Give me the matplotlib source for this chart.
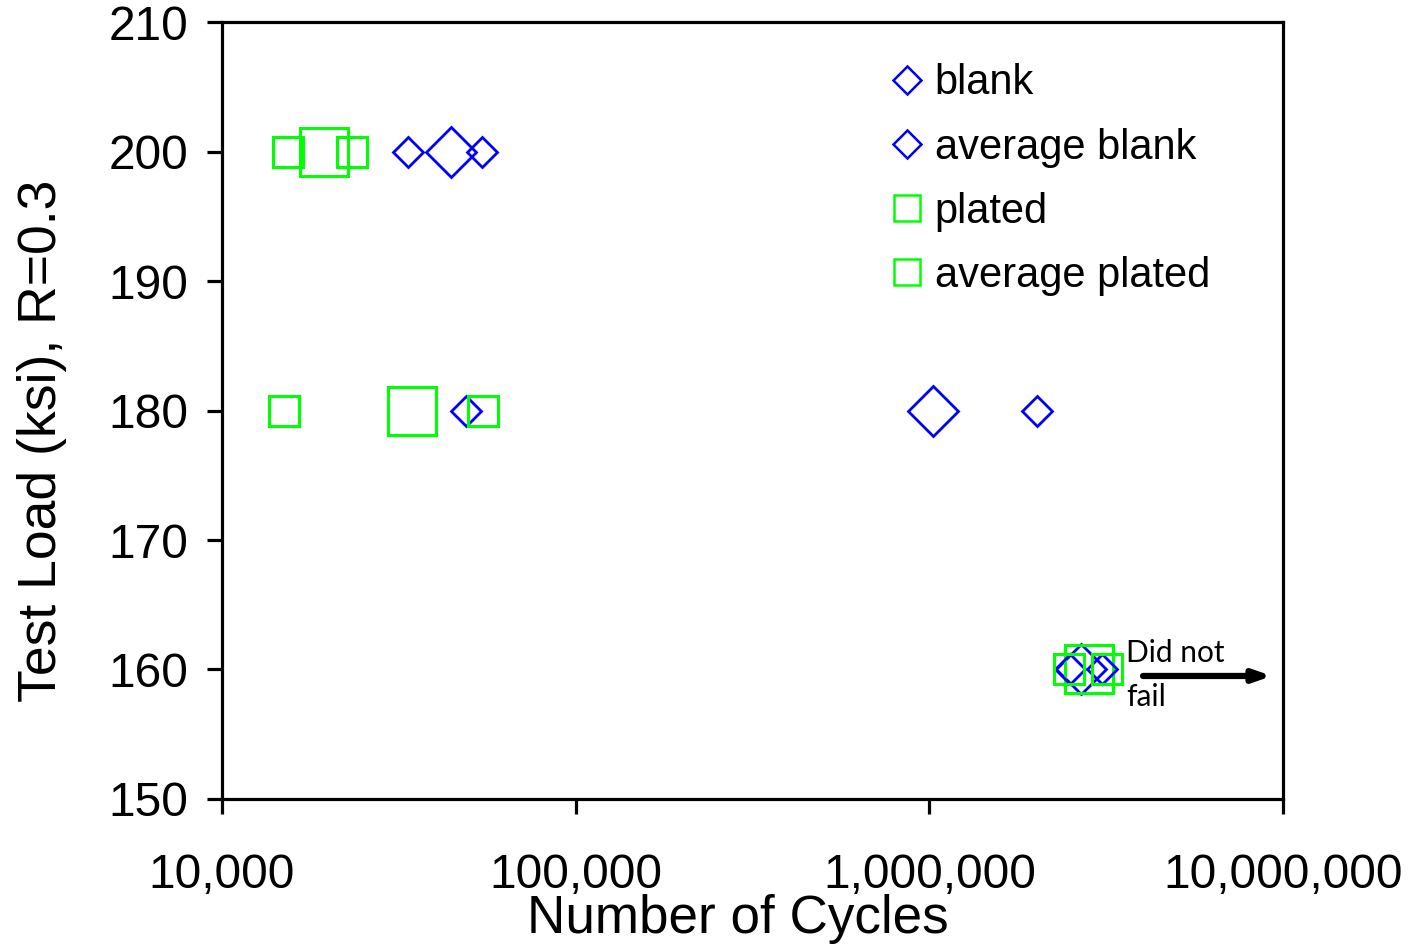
import matplotlib
matplotlib.use("Agg")
import matplotlib.pyplot as plt
from matplotlib.ticker import FixedLocator, FuncFormatter, NullLocator

plt.rcParams['font.family'] = ['Liberation Sans', 'DejaVu Sans']

# individual specimens and averages (cycles, load ksi)
blank_cycles = [33600, 54300, 49000, 2021000, 2497000, 3076000]
blank_load = [200, 200, 180, 180, 160, 160]
avg_blank_cycles = [44400, 1024000, 2683000]
avg_blank_load = [200, 180, 160]

plated_cycles = [15400, 23300, 15000, 54700, 2481000, 3178000]
plated_load = [200, 200, 180, 180, 160, 160]
avg_plated_cycles = [19400, 34400, 2827000]
avg_plated_load = [200, 180, 160]

x_ticks = [1e4, 1e5, 1e6, 1e7]
y_ticks = [150, 160, 170, 180, 190, 200, 210]

fig = plt.figure(figsize=(14.18, 9.46), dpi=100)
ax = fig.add_axes([0.1566, 0.1554, 0.7482, 0.8213])

blue = '#0000ff'
green = '#00ff00'

ax.plot(avg_blank_cycles, avg_blank_load, linestyle='none', marker='D', ms=25,
        mfc='none', mec=blue, mew=2.0)
ax.plot(avg_plated_cycles, avg_plated_load, linestyle='none', marker='s', ms=34,
        mfc='none', mec=green, mew=2.2)
ax.plot(blank_cycles, blank_load, linestyle='none', marker='D', ms=15.5,
        mfc='none', mec=blue, mew=2.0)
ax.plot(plated_cycles, plated_load, linestyle='none', marker='s', ms=21,
        mfc='none', mec=green, mew=2.2)

# legend proxies (all drawn the same small size)
h1, = ax.plot([], [], linestyle='none', marker='D', ms=14, mfc='none', mec=blue, mew=1.8)
h2, = ax.plot([], [], linestyle='none', marker='D', ms=14, mfc='none', mec=blue, mew=1.8)
h3, = ax.plot([], [], linestyle='none', marker='s', ms=19, mfc='none', mec=green, mew=1.8)
h4, = ax.plot([], [], linestyle='none', marker='s', ms=19, mfc='none', mec=green, mew=1.8)
ax.legend([h1, h2, h3, h4], ['blank', 'average blank', 'plated', 'average plated'],
          loc='upper left', bbox_to_anchor=(0.595, 0.995), frameon=False,
          fontsize=30, handlelength=0.8, handletextpad=0.25, labelspacing=0.58,
          borderpad=0.4)

# run-out note
ax.annotate('', xy=(9.3e6, 159.5), xytext=(4.02e6, 159.5),
            arrowprops=dict(arrowstyle='-|>,head_length=1.0,head_width=0.35',
                            color='black', lw=4.5, shrinkA=0, shrinkB=0))
ax.text(3.6e6, 161.3, 'Did not', fontsize=21.5, family=['Lato', 'DejaVu Sans'],
        ha='left', va='center')
ax.text(3.6e6, 157.9, 'fail', fontsize=21.5, family=['Lato', 'DejaVu Sans'],
        ha='left', va='center')

ax.set_xscale('log')
ax.set_xlim(1e4, 1e7)
ax.set_ylim(150, 210)
ax.xaxis.set_major_locator(FixedLocator(x_ticks))
ax.xaxis.set_minor_locator(NullLocator())
ax.xaxis.set_major_formatter(FuncFormatter(lambda v, p: f'{int(round(v)):,}'))
ax.set_yticks(y_ticks)

for s in ax.spines.values():
    s.set_linewidth(2.3)
ax.tick_params(axis='both', direction='out', length=11, width=2.3, labelsize=34.5)
ax.tick_params(axis='x', pad=28)
ax.tick_params(axis='y', pad=13)

ax.set_xlabel('Number of Cycles', fontsize=38.2, labelpad=-3, x=0.486)
ax.set_ylabel('Test Load (ksi), R=0.3', fontsize=38.5, labelpad=30, y=0.461)

fig.savefig('out.png', dpi=100)
